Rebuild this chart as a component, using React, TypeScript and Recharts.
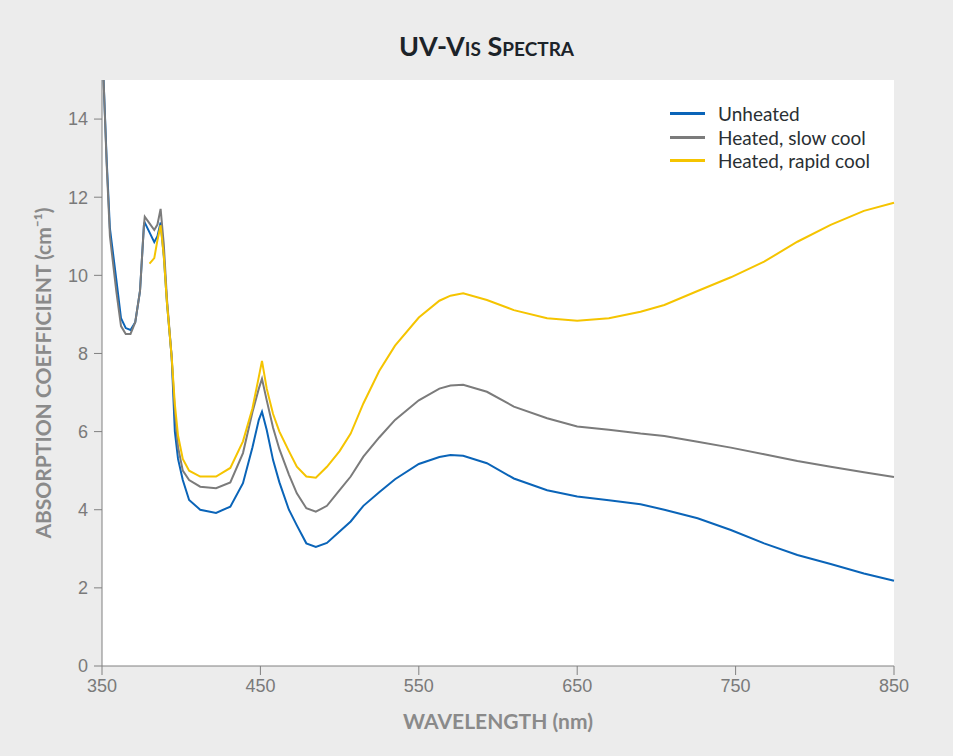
import { LineChart, Line, XAxis, YAxis, CartesianGrid } from 'recharts';

// wavelength (nm)
const wavelengths = [
  350, 351, 353, 355, 359, 362, 365, 368, 371, 374, 376.5, 377, 380, 383, 385, 387, 389, 391, 394, 396,
  398, 401, 405, 412, 422, 431, 439, 445, 449, 451, 454, 458, 462, 468, 473, 479, 485, 492, 500, 507,
  515, 525, 535, 550, 563, 570, 578, 593, 610, 631, 650, 670, 690, 705, 726, 747, 768, 789, 810, 831, 850,
];

const unheated = [
  15.6, 15.0, 12.9, 11.2, 9.9, 8.9, 8.65, 8.6, 8.8, 9.6, 11.3, 11.35, 11.1, 10.85, 11.0, 11.35, 10.5, 9.3, 7.9, 6.0,
  5.3, 4.76, 4.25, 4.0, 3.92, 4.08, 4.68, 5.6, 6.3, 6.51, 6.04, 5.27, 4.7, 4.0, 3.6, 3.14, 3.05, 3.15, 3.44, 3.7,
  4.1, 4.45, 4.78, 5.17, 5.35, 5.4, 5.38, 5.19, 4.8, 4.5, 4.34, 4.24, 4.14, 4.0, 3.78, 3.48, 3.14, 2.84, 2.61, 2.37, 2.18,
];

const slowCool = [
  15.6, 15.0, 12.8, 11.0, 9.6, 8.7, 8.5, 8.5, 8.8, 9.6, 11.3, 11.5, 11.33, 11.16, 11.3, 11.7, 10.8, 9.4, 7.9, 6.5,
  5.6, 5.0, 4.76, 4.59, 4.55, 4.7, 5.45, 6.5, 7.1, 7.35, 6.8, 6.1, 5.55, 4.9, 4.42, 4.04, 3.95, 4.1, 4.5, 4.85,
  5.36, 5.85, 6.3, 6.8, 7.1, 7.18, 7.2, 7.02, 6.64, 6.34, 6.13, 6.05, 5.95, 5.89, 5.74, 5.59, 5.42, 5.25, 5.1, 4.96, 4.84,
];

const rapidCool = [
  null, null, null, null, null, null, null, null, null, null, null, null, 10.3, 10.44, 10.9, 11.28, 10.5, 9.3, 7.9, 6.7,
  5.9, 5.3, 5.0, 4.85, 4.85, 5.07, 5.75, 6.6, 7.4, 7.81, 7.1, 6.45, 6.0, 5.5, 5.1, 4.85, 4.82, 5.1, 5.5, 5.95,
  6.72, 7.55, 8.2, 8.92, 9.35, 9.48, 9.54, 9.37, 9.11, 8.9, 8.84, 8.9, 9.07, 9.24, 9.6, 9.95, 10.35, 10.86, 11.29, 11.65, 11.86,
];

const xTicks = [350, 450, 550, 650, 750, 850];
const yTicks = [0, 2, 4, 6, 8, 10, 12, 14];

const series = [
  { key: 'unheated', name: 'Unheated', color: '#0a64b8' },
  { key: 'slowCool', name: 'Heated, slow cool', color: '#7b7b7b' },
  { key: 'rapidCool', name: 'Heated, rapid cool', color: '#f5c400' },
];

const data = wavelengths.map((wl, i) => ({
  wl,
  unheated: unheated[i],
  slowCool: slowCool[i],
  rapidCool: rapidCool[i],
}));

const axisColor = '#808080';
const tickStyle = { fill: '#7a7a7a', fontSize: 18, fontFamily: 'Liberation Sans, Arial, sans-serif' };

function LegendBox() {
  return (
    <div
      style={{
        position: 'absolute',
        top: 102,
        left: 670,
        fontFamily: 'Lato, sans-serif',
        fontSize: 19,
        color: '#2a2f33',
      }}
    >
      {series.map((s) => (
        <div key={s.key} style={{ display: 'flex', alignItems: 'center', height: 23.5 }}>
          <span style={{ display: 'inline-block', width: 35, height: 3, background: s.color, marginRight: 13 }} />
          <span>{s.name}</span>
        </div>
      ))}
    </div>
  );
}

export default function App() {
  return (
    <div style={{ position: 'fixed', left: 0, top: 0, width: 953, height: 756, background: '#ececec' }}>
      <div
        style={{
          position: 'absolute',
          top: 29,
          left: 10,
          width: 953,
          textAlign: 'center',
          fontFamily: 'Lato, sans-serif',
          fontWeight: 'bold',
          fontVariant: 'small-caps',
          fontSize: 27,
          color: '#1c2329',
        }}
      >
        UV-Vis Spectra
      </div>
      <LineChart width={953} height={756} data={data} margin={{ top: 80, right: 59, left: 42, bottom: 60 }}>
        <CartesianGrid fill="#ffffff" stroke="none" horizontal={false} vertical={false} />
        <XAxis
          dataKey="wl"
          type="number"
          domain={[350, 850]}
          ticks={xTicks}
          height={30}
          stroke={axisColor}
          tickSize={9}
          tickMargin={4}
          tick={tickStyle}
          label={{
            value: 'WAVELENGTH (nm)',
            position: 'insideBottom',
            offset: -33,
            fill: '#8a8a8a',
            fontSize: 21,
            fontWeight: 'bold',
            fontFamily: 'Lato, sans-serif',
          }}
        />
        <YAxis
          type="number"
          domain={[0, 15]}
          allowDataOverflow
          ticks={yTicks}
          width={60}
          stroke={axisColor}
          tickSize={8}
          tickMargin={6}
          tick={tickStyle}
          label={{
            value: 'ABSORPTION COEFFICIENT (cm⁻¹)',
            angle: -90,
            position: 'insideLeft',
            offset: 2,
            style: { textAnchor: 'middle' },
            fill: '#8a8a8a',
            fontSize: 21,
            fontWeight: 'bold',
            fontFamily: 'Lato, sans-serif',
          }}
        />
        {series.map((s) => (
          <Line
            key={s.key}
            dataKey={s.key}
            name={s.name}
            type="linear"
            stroke={s.color}
            strokeWidth={2}
            dot={false}
            connectNulls={false}
            isAnimationActive={false}
          />
        ))}
      </LineChart>
      <LegendBox />
    </div>
  );
}
